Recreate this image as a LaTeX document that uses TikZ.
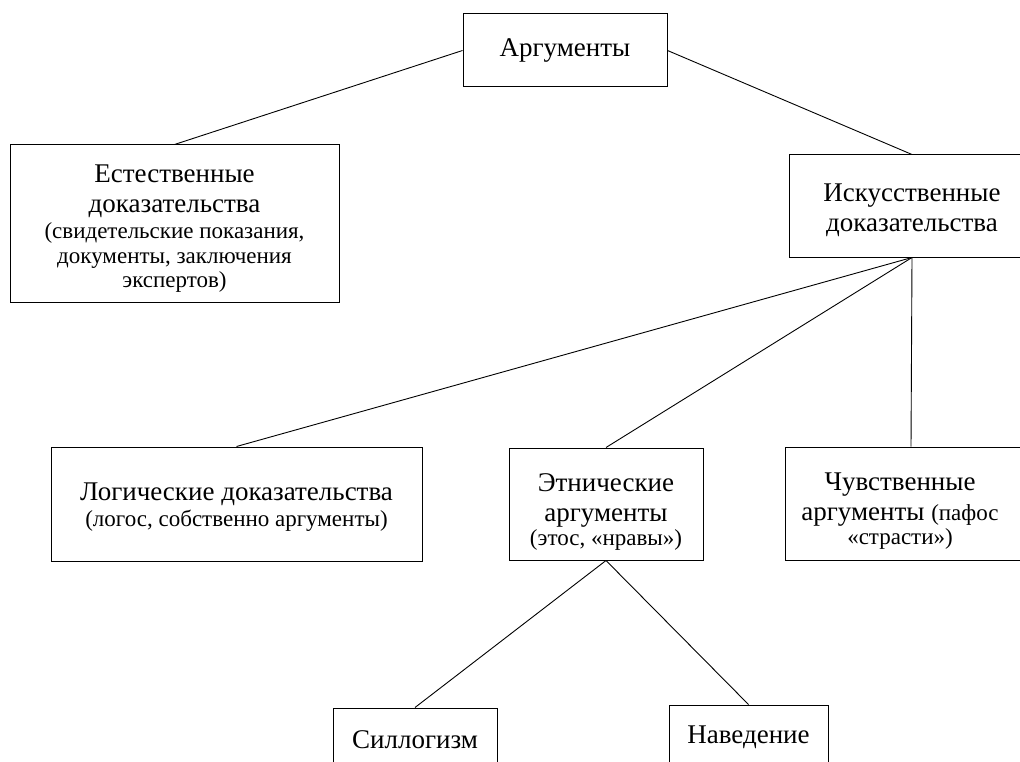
\documentclass[tikz,border=0pt]{standalone}
\usepackage{fontspec}
\setmainfont{Liberation Serif}
\newcommand\BigF{\fontsize{27}{30}\selectfont}
\newcommand\SmF{\fontsize{23}{24.5}\selectfont}
\newcommand\TopPad[1]{\rule{0pt}{#1}}
\begin{document}
\begin{tikzpicture}[x=1pt,y=-1pt,
  box/.style={draw, line width=1pt, rectangle, inner sep=0pt, align=flush center, font=\BigF},
  txt/.style={inner sep=0pt, align=flush center, font=\BigF},
  link/.style={line width=0.9pt}]
\useasboundingbox (0,0) rectangle (1020,762);
\clip (0,0) rectangle (1020,762);

\node[box, text width=320, minimum width=329, minimum height=157] (est) at (174.5,223.5)
  {\TopPad{28pt}Естественные\par доказательства\par\vspace{2pt}\SmF(свидетельские показания,\par документы, заключения\par экспертов)\par};
\node[box, minimum width=204, minimum height=73] (arg) at (565,50.5) {Аргументы};
\node[box, text width=236, minimum width=246, minimum height=102] (isk) at (912,206)
  {\TopPad{26pt}Искусственные\par доказательства\par};
\node[box, text width=360, minimum width=371, minimum height=114] (log) at (236.5,504)
  {\TopPad{24pt}Логические доказательства\par\vspace{2pt}\SmF(логос, собственно аргументы)\par};
\node[box, text width=186, minimum width=194, minimum height=112] (eth) at (606,504)
  {\TopPad{34pt}Этнические\par аргументы\par \SmF(этос, «нравы»)\par};
\node[box, minimum width=252, minimum height=113] (chu) at (911,503.5) {};
\node[txt, text width=226] (chut) at (900,511)
  {Чувственные\par аргументы {\SmF(пафос}\par \SmF«страсти»)\par};
\node[box, minimum width=164, minimum height=64] (syl) at (415,740) {Силлогизм};
\node[box, minimum width=159, minimum height=64] (nav) at (748.5,737) {Наведение};

\draw[link] (arg.west) -- (est.north);
\draw[link] (arg.east) -- (isk.north);
\draw[link] (isk.south) -- (log.north);
\draw[link] (isk.south) -- (eth.north);
\draw[link] (isk.south) -- (chu.north);
\draw[link] (eth.south) -- (syl.north);
\draw[link] (eth.south) -- (nav.north);
\end{tikzpicture}
\end{document}
